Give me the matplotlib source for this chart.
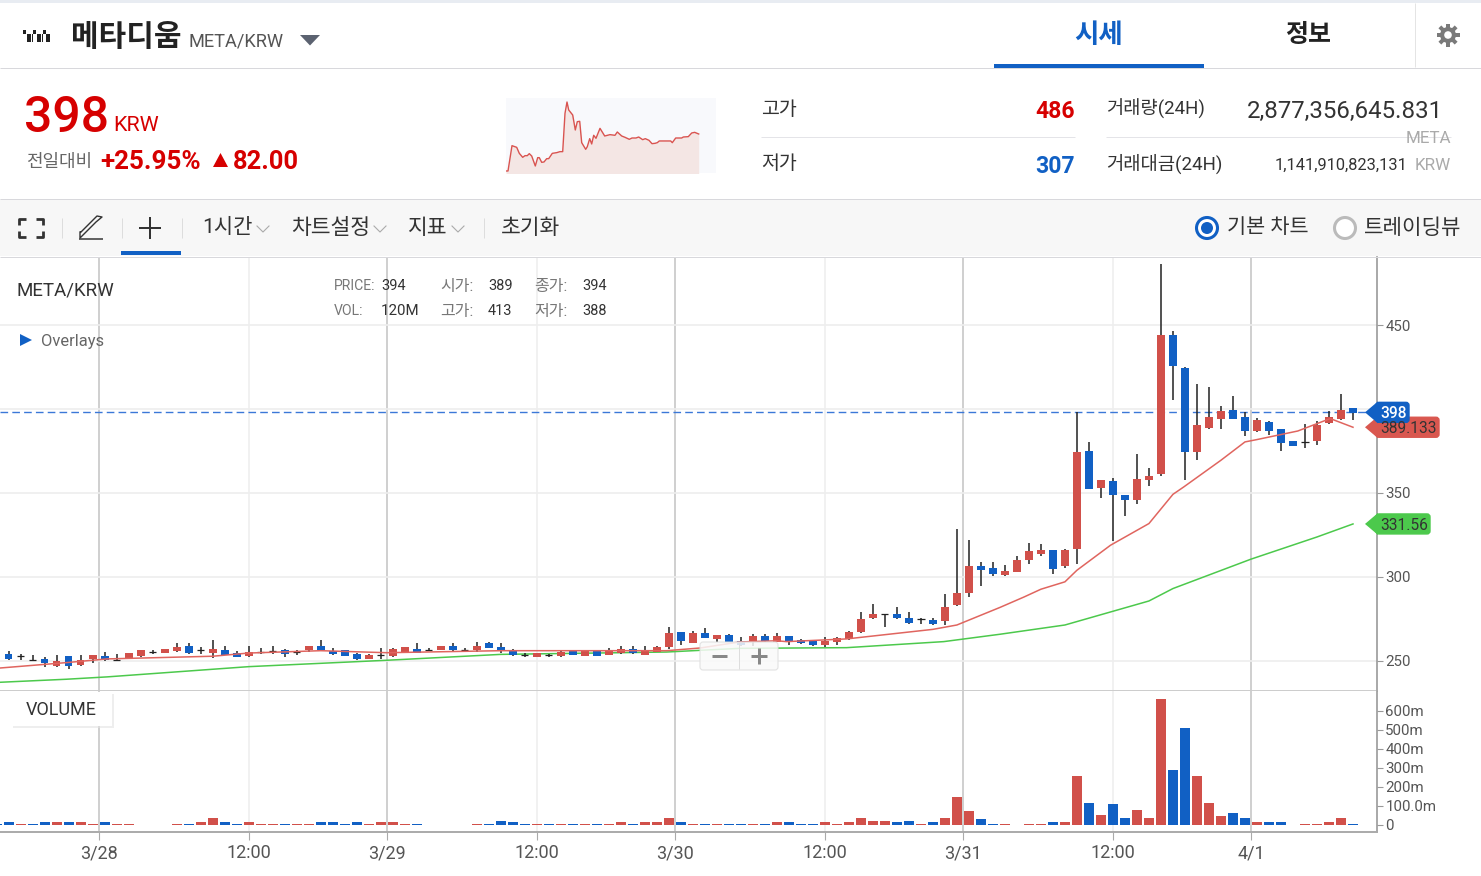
###########################################################################################################################
# META/KRW hourly chart screen
import numpy as np
import matplotlib
matplotlib.use('Agg')
import matplotlib.pyplot as plt
from matplotlib.patches import Circle, FancyBboxPatch, Polygon, Rectangle

plt.rcParams['font.family'] = ['Roboto', 'Noto Sans CJK KR', 'DejaVu Sans']

###########################################################################################################################
# Data
# hourly candles, the first one is cut by the left edge
opens = [256.1, 253.9, 252.7, 250.8, 251.2, 247.0, 252.8, 247.6, 251.0, 252.8, 250.8, 251.6, 253.0, 255.3, 254.7, 255.7, 259.1, 256.3, 254.9,
         256.5, 254.5, 253.0, 255.1, 256.1, 256.5, 255.1, 256.5, 259.1, 256.1, 256.5, 254.1, 251.4, 253.3, 253.0, 255.5, 257.3, 256.3, 256.7,
         259.1, 256.3, 256.5, 260.9, 258.1, 256.1, 253.9, 252.2, 253.5, 253.0, 256.1, 253.2, 255.7, 253.7, 254.5, 257.3, 253.7, 255.5, 258.1,
         267.2, 260.9, 266.4, 262.9, 265.4, 261.9, 261.5, 264.7, 261.5, 264.7, 262.5, 261.9, 259.3, 261.3, 262.9, 267.4, 275.4, 278.0, 278.0,
         275.4, 275.2, 274.4, 273.8, 283.4, 290.7, 306.6, 305.6, 301.2, 303.0, 310.2, 313.7, 316.3, 306.6, 316.5, 375.2, 353.2, 357.4, 348.6,
         346.1, 357.6, 361.1, 444.1, 424.4, 374.4, 388.7, 394.1, 399.4, 395.1, 386.9, 392.3, 387.9, 380.8, 380.6, 380.8, 391.5, 394.1, 400.4]
closes = [253.5, 251.2, 252.7, 250.7, 248.6, 250.0, 247.0, 250.4, 253.7, 250.4, 250.8, 254.5, 256.3, 255.3, 257.3, 258.1, 254.9, 256.3, 257.3,
          253.7, 252.4, 255.5, 255.1, 256.1, 253.9, 255.1, 259.1, 256.7, 253.9, 253.2, 251.4, 253.7, 253.3, 257.3, 258.1, 254.9, 256.3, 259.1,
          256.5, 256.3, 259.1, 257.7, 256.1, 253.7, 253.8, 254.7, 253.4, 255.5, 253.7, 255.7, 253.2, 256.5, 257.3, 254.9, 256.5, 258.3, 266.4,
          261.9, 266.4, 263.7, 265.4, 261.5, 259.5, 264.7, 261.9, 264.7, 261.9, 260.5, 259.3, 261.9, 263.7, 267.2, 275.2, 278.0, 278.0, 275.4,
          272.8, 275.2, 272.0, 282.3, 290.5, 306.6, 304.0, 302.0, 303.8, 310.2, 315.5, 316.3, 305.0, 316.3, 374.4, 352.2, 357.6, 348.6, 346.1,
          358.4, 360.2, 444.1, 425.4, 374.4, 390.5, 395.1, 398.6, 394.1, 386.9, 393.3, 386.9, 379.8, 378.2, 380.6, 390.5, 395.1, 399.4, 397.8]
highs = [256.1, 256.1, 254.3, 253.5, 252.4, 253.3, 252.8, 253.5, 253.7, 255.1, 254.1, 254.5, 256.3, 256.3, 257.3, 260.5, 260.5, 258.5, 262.3,
         258.7, 256.1, 258.7, 257.5, 258.7, 257.1, 256.5, 259.1, 262.3, 257.5, 256.5, 254.5, 254.1, 257.7, 257.7, 258.1, 260.5, 257.5, 259.1,
         260.5, 257.7, 261.5, 261.5, 260.5, 256.9, 254.9, 254.7, 254.3, 256.1, 256.1, 255.7, 255.7, 257.7, 258.7, 258.7, 258.7, 258.7, 270.4,
         267.2, 267.6, 269.4, 265.4, 265.9, 264.1, 265.9, 265.9, 266.8, 264.9, 263.3, 261.9, 264.1, 264.1, 267.6, 279.3, 283.9, 278.2, 281.9,
         279.3, 275.4, 275.8, 290.1, 328.6, 322.3, 309.0, 309.0, 307.0, 312.5, 320.5, 319.5, 316.3, 316.9, 398.2, 380.4, 357.6, 358.8, 349.0,
         373.0, 365.1, 486.5, 446.3, 425.0, 415.1, 413.3, 401.8, 408.0, 398.2, 394.5, 392.9, 388.3, 380.8, 390.9, 392.9, 399.0, 408.9, 400.4]
lows = [253.5, 250.6, 250.6, 250.2, 246.4, 246.2, 245.4, 247.2, 249.0, 250.0, 250.0, 251.2, 252.2, 254.1, 254.7, 255.5, 254.1, 254.1, 251.6,
        253.3, 252.2, 252.6, 253.9, 254.3, 252.6, 253.5, 255.1, 256.5, 253.5, 253.2, 250.8, 251.2, 251.4, 252.6, 255.5, 254.5, 255.9, 256.7,
        255.5, 255.7, 255.1, 257.5, 254.5, 253.2, 252.6, 252.2, 252.6, 252.6, 253.7, 253.2, 253.2, 253.5, 254.3, 254.1, 253.3, 255.3, 256.9,
        259.7, 260.9, 263.5, 261.1, 261.1, 258.9, 258.9, 261.5, 261.1, 259.7, 260.3, 258.7, 258.1, 259.7, 262.5, 266.8, 275.0, 270.4, 275.0,
        272.2, 272.2, 271.6, 271.4, 283.0, 288.1, 294.7, 300.8, 300.6, 303.0, 308.0, 312.5, 301.8, 305.4, 308.0, 352.2, 347.3, 321.5, 336.5,
        343.5, 354.4, 360.0, 405.2, 358.0, 369.7, 388.3, 388.3, 394.1, 383.8, 386.5, 384.6, 375.0, 378.2, 376.6, 378.4, 391.1, 393.7, 393.5]
volumes = [5, 12, 5, 5, 12, 12, 12, 12, 5, 12, 5, 5, 0, 0, 0, 5, 5, 12, 35,
           12, 5, 12, 5, 5, 5, 5, 5, 12, 12, 5, 12, 5, 12, 12, 5, 5, 0, 0,
           0, 0, 5, 5, 19, 12, 5, 5, 5, 5, 5, 5, 5, 5, 12, 5, 12, 12, 35,
           12, 5, 5, 5, 5, 5, 5, 5, 12, 12, 5, 5, 12, 5, 12, 35, 19, 19, 12,
           19, 5, 12, 35, 146, 74, 28, 5, 5, 0, 5, 5, 12, 12, 256, 114, 51, 107, 35,
           75, 35, 660, 288, 509, 256, 114, 44, 60, 35, 12, 12, 12, 0, 5, 5, 12, 35, 5]

# moving averages, read at the corners of the lines
ma_fast_x = [-0.7, 4.8, 8.2, 17, 20, 26, 31.5, 41, 49.3, 54.8, 57.6, 60.9, 64, 64.8, 69.8, 77, 79, 82.6, 84.6, 86, 88, 89, 91.8, 95, 97, 97.9, 101, 103, 104, 107.4, 110.1, 112]
ma_fast_y = [245.8, 249.0, 251.2, 252.8, 254.7, 256.1, 254.9, 256.1, 256.1, 256.1, 257.7, 261.3, 262.0, 261.5, 263.1, 268.8, 271.4, 281.9, 288.1, 292.7, 297.1, 304.0, 318.9, 331.8, 349.2, 353.6, 369.5, 380.4, 381.8, 386.9, 394.3, 389.13]
ma_slow_x = [-0.7, 4.8, 8.2, 20, 31.5, 41, 54.8, 60.9, 69.8, 77.9, 82.6, 88, 95, 97, 103.5, 109, 112]
ma_slow_y = [237.3, 239.1, 240.5, 246.6, 250.4, 253.9, 255.3, 257.5, 257.9, 261.5, 265.9, 271.4, 285.7, 293.1, 310.6, 323.8, 331.56]

last_price = 398
ma_fast_last = '389.133'
ma_slow_last = '331.56'

price_ticks = [250, 300, 350, 400, 450]
price_labels = ['250', '300', '350', '', '450']
vol_ticks = [0, 100, 200, 300, 400, 500, 600]
vol_labels = ['0', '100.0m', '200m', '300m', '400m', '500m', '600m']
day_ticks = [7.5, 31.5, 55.5, 79.5, 103.5]
day_labels = ['3/28', '3/29', '3/30', '3/31', '4/1']
noon_ticks = [20, 44, 68, 92]

# small 24h chart in the header
spark_t = [0, 2, 6, 10.7, 13.3, 16.7, 19, 21.3, 23.3, 25.7, 29.3, 31.7, 33.3, 35.7, 38, 40.7, 42.7, 46.3, 50.7, 54, 56.7, 59, 61, 62.7, 66.7, 69.3, 71.3, 73.7,
           75.7, 79.7, 81.3, 83.7, 85.7, 87.7, 90, 94, 98.7, 104, 109, 111.3, 115.7, 119, 123.3, 126, 130, 132.7, 136.7, 139.3, 143, 146, 149, 151.3, 153.3,
           164.7, 166.3, 169.7, 175.7, 177.3, 182.3, 185.7, 188.7, 192.7]
spark_p = [307, 307, 372.7, 368.4, 352.8, 342.5, 346.8, 346.8, 352.0, 345.9, 320, 341.6, 341.6, 329.5, 330.4, 339, 339, 352.8, 354.6, 357.2, 357.2, 456.6, 486, 465.3,
           452.3, 413.4, 435, 435.9, 380.5, 363.2, 370.1, 390.9, 377.1, 399.6, 391.8, 417.7, 397.8, 401.3, 399.6, 408.2, 397.8, 394.4, 389.2, 392.6, 392.6, 395.2,
           388.3, 390.9, 386.6, 377.9, 378.8, 380.5, 384.9, 384.9, 380.5, 392.6, 392.6, 395.2, 396.1, 405.6, 407.3, 403]

###########################################################################################################################
# Definitions
W, H = 1481, 876
RED = '#D1504A'
BLUE = '#1160C4'
TEXT_RED = '#D60000'
GREEN = '#4CC94C'

def box(x0, y0, x1, y1):
    """ Axes rectangle from pixel corners, y counted from the top. """
    return [x0 / W, 1 - y1 / H, (x1 - x0) / W, (y1 - y0) / H]

def txt(x, y, s, px, color='#333333', ha='left', weight='normal', **kw):
    """ Text with the size given in pixels, y is the middle of the glyphs. """
    return ui.text(x, y + 0.12 * px - 0.7, s, fontsize=px * 0.72, color=color, ha=ha, va='center', fontweight=weight, **kw)

def line(x0, y0, x1, y1, color='#DDDDDD', lw=1.0, **kw):
    ui.plot([x0, x1], [y0, y1], color=color, lw=lw * 0.72, solid_capstyle='butt', **kw)

def rect(x0, y0, x1, y1, color, **kw):
    ui.add_patch(Rectangle((x0, y0), x1 - x0, y1 - y0, facecolor=color, edgecolor='none', **kw))

def chevron(x, y):
    ui.plot([x - 6, x, x + 6], [y - 3, y + 3, y - 3], color='#AAAAAA', lw=0.8)

def tag(value, label, x1, color, text_color, weight='normal'):
    """ Price tag at the right axis, placed from the price scale. """
    y = H - ax_price.transData.transform((0, value))[1]
    ui.add_patch(FancyBboxPatch((1376, y - 10), x1 - 1376 - 1, 20, boxstyle='round,pad=0,rounding_size=3', facecolor=color, edgecolor=color, lw=1))
    ui.add_patch(Polygon([[1365, y], [1378, y - 11], [1378, y + 11]], facecolor=color, edgecolor='none'))
    txt(1380, y, label, 15.5, color=text_color, weight=weight)

###########################################################################################################################
# Figure and axes
fig = plt.figure(figsize=(W / 100, H / 100), dpi=100, facecolor='white')
ax_price = fig.add_axes(box(0, 257, 1377, 691))
ax_vol = fig.add_axes(box(0, 691, 1377, 832), sharex=ax_price)
ax_spark = fig.add_axes(box(506, 98, 716, 173))
ui = fig.add_axes([0, 0, 1, 1], zorder=10)
ui.set_xlim(0, W)
ui.set_ylim(H, 0)
ui.axis('off')
ui.patch.set_alpha(0)

k = np.arange(-1, len(opens) - 1)
opens, closes, highs, lows = map(np.array, (opens, closes, highs, lows))
volumes = np.array(volumes)
up = closes >= opens
body = np.abs(closes - opens)
doji = body < 0.5
colors = np.where(up, RED, BLUE)

## Price panel
for ax in (ax_price, ax_vol):
    for t in day_ticks:
        ax.axvline(t, color='#CCCCCC', lw=1.3, zorder=1)
    for t in noon_ticks:
        ax.axvline(t, color='#EEEEEE', lw=1.1, zorder=1)
    ax.spines[['left', 'top']].set_visible(False)
    ax.spines['right'].set_color('#999999')
    ax.spines['right'].set_linewidth(1.2)
    ax.yaxis.tick_right()
    ax.tick_params(axis='y', length=4, width=0.8, color='#999999', labelcolor='#555555', labelsize=10.8, pad=2)

for p in price_ticks:
    ax_price.axhline(p, color='#EEEEEE', lw=1.2, zorder=1)
ax_price.axhline(last_price, color='#3B78D8', lw=1.0, dashes=(5.5, 3), zorder=2)
ax_price.plot(ma_slow_x, ma_slow_y, color=GREEN, lw=1.1, zorder=3)
ax_price.vlines(k, lows, highs, color='#222222', lw=1.1, zorder=4)
ax_price.bar(k[~doji], body[~doji], bottom=np.minimum(opens, closes)[~doji], width=0.63, color=colors[~doji], zorder=5)
ax_price.hlines(closes[doji], k[doji] - 0.3, k[doji] + 0.3, color='#222222', lw=0.9, zorder=5)
ax_price.plot(ma_fast_x, ma_fast_y, color='#E0655F', lw=1.1, zorder=6)
ax_price.set_xlim(-0.725, 114.0)
ax_price.set_ylim(232.1, 490.5)
ax_price.set_yticks(price_ticks, price_labels)
ax_price.spines['bottom'].set_color('#CCCCCC')
ax_price.spines['bottom'].set_linewidth(1.4)
ax_price.tick_params(axis='x', length=0, labelbottom=False)

## Volume panel
ax_vol.bar(k, volumes, width=0.84, color=colors, zorder=3)
ax_vol.set_ylim(-38.5, 704)
ax_vol.set_yticks(vol_ticks, vol_labels)
ax_vol.spines['bottom'].set_color('#AAAAAA')
ax_vol.spines['bottom'].set_linewidth(1.4)
ax_vol.set_xticks(day_ticks + noon_ticks, day_labels + ['12:00'] * len(noon_ticks))
ax_vol.tick_params(axis='x', length=6, width=0.8, color='#AAAAAA', labelcolor='#555555', labelsize=13, pad=3)

## 24h chart
ax_spark.fill_between(spark_t, spark_p, 300, color='#F4E6E4', lw=0)
ax_spark.plot(spark_t, spark_p, color='#D9534F', lw=1.0)
ax_spark.set_xlim(0, 210)
ax_spark.set_ylim(301.8, 496.4)
ax_spark.axis('off')
ax_spark.add_patch(Rectangle((0, 0), 1, 1, transform=ax_spark.transAxes, facecolor='#F8F9FC', edgecolor='none', zorder=0))

###########################################################################################################################
# Page furniture
rect(0, 0, W, 3, '#E8ECF2')
line(0, 67.5, W, 67.5, '#D8D8DC')
line(0, 198.5, W, 198.5, '#D8D8DC')
line(0, 256.5, W, 256.5, '#D8D8DC')
rect(0, 199, W, 256, '#F7F7F7')

## Title row
for x0, y0, x1, y1 in [(22.5, 30, 25.5, 34), (27, 34, 30.5, 42), (31.5, 34, 33, 42), (33, 30, 36, 34), (37, 34, 40.5, 42),
                       (41.5, 34, 43, 42), (43, 30, 46, 34), (46, 34, 49.5, 42)]:
    rect(x0, y0, x1, y1, '#222222')
txt(71, 35.5, '메타디움', 30, color='#222222', weight='bold')
txt(188, 40, 'META/KRW', 18.3, color='#555555')
ui.add_patch(Polygon([[300, 35], [320, 35], [310, 45.5]], facecolor='#5B6270', edgecolor='none'))
txt(1099, 33, '시세', 26.5, color=BLUE, ha='center', weight='bold')
txt(1308, 33, '정보', 25, color='#222222', ha='center', weight='bold')
rect(994, 64, 1204, 68, BLUE)
line(1414.5, 3, 1414.5, 67, '#E4E4E4')
for a in np.arange(0, 360, 45):
    ca, sa = np.cos(np.radians(a)), np.sin(np.radians(a))
    line(1448 + 6 * ca, 35 + 6 * sa, 1448 + 11.5 * ca, 35 + 11.5 * sa, '#7A7A7A', lw=4)
ui.add_patch(Circle((1448, 35), 8, facecolor='#7A7A7A', edgecolor='none'))
ui.add_patch(Circle((1448, 35), 3.8, facecolor='white', edgecolor='none'))

## Price block
txt(24, 113, '398', 50, color=TEXT_RED, weight='medium')
txt(113, 124, 'KRW', 21.5, color=TEXT_RED)
txt(26, 160, '전일대비', 18, color='#666666')
txt(100, 160, '+25.95%', 26, color=TEXT_RED, weight='bold')
ui.add_patch(Polygon([[213, 167], [228, 167], [220.5, 153]], facecolor=TEXT_RED, edgecolor='none'))
txt(233, 160, '82.00', 25.5, color=TEXT_RED, weight='bold')

txt(761, 108, '고가', 19.5)
txt(1075, 109, '486', 23, color=TEXT_RED, ha='right', weight='bold')
line(761, 136.5, 1075, 136.5, '#E4E4E8')
txt(761, 162, '저가', 19.5)
txt(1075, 164, '307', 23, color=BLUE, ha='right', weight='bold')
txt(1106, 107, '거래량(24H)', 18.7)
txt(1443, 109, '2,877,356,645.831', 24, ha='right')
line(1106, 136.5, 1451, 136.5, '#E4E4E8')
txt(1451, 137, 'META', 17, color='#AAAAAA', ha='right')
txt(1106, 162, '거래대금(24H)', 18.8)
txt(1408, 164, '1,141,910,823,131', 16.4, ha='right')
txt(1451, 164, 'KRW', 17, color='#AAAAAA', ha='right')

## Toolbar
for cx, cy, dx, dy in [(19, 219, 1, 1), (43, 219, -1, 1), (19, 237, 1, -1), (43, 237, -1, -1)]:
    ui.plot([cx + 7 * dx, cx, cx], [cy, cy, cy + 6 * dy], color='#333333', lw=2.0, solid_capstyle='butt')
for x in (61.5, 121.5, 181.5, 483.5):
    line(x, 218, x, 238, '#DDDDDD')
ui.plot([80, 80, 96, 102, 97, 81], [232, 238, 222, 217, 216, 232], color='#333333', lw=1.0)
line(79, 239, 103, 239, '#333333', lw=1.5)
line(139, 228, 161, 228, '#333333', lw=2)
line(150, 217, 150, 239, '#333333', lw=2)
rect(121, 251, 181, 255, BLUE)
txt(202, 226, '1시간', 21)
chevron(263, 229)
txt(291, 226, '차트설정', 21.5)
chevron(380, 229)
txt(408, 226, '지표', 21.5)
chevron(458, 229)
txt(501, 226, '초기화', 21.5)
ui.add_patch(Circle((1207, 228), 10.5, facecolor='white', edgecolor=BLUE, lw=2.2))
ui.add_patch(Circle((1207, 228), 6, facecolor=BLUE, edgecolor='none'))
txt(1227, 226, '기본 차트', 20.8)
ui.add_patch(Circle((1345, 228), 10.5, facecolor='white', edgecolor='#BBBBBB', lw=2.2))
txt(1364, 226, '트레이딩뷰', 21.2)

## Chart captions
txt(17, 289, 'META/KRW', 18.8)
for x, y, s, c, px in [(334, 285, 'PRICE:', '#777777', 14), (381, 285, '394', '#333333', 14.5), (440, 285, '시가:', '#777777', 16), (488, 285, '389', '#333333', 14.5),
                       (534, 285, '종가:', '#777777', 16), (582, 285, '394', '#333333', 14.5), (334, 310, 'VOL:', '#777777', 14), (381, 310, '120M', '#333333', 15),
                       (440, 310, '고가:', '#777777', 16), (488, 310, '413', '#333333', 14.5), (534, 310, '저가:', '#777777', 16), (582, 310, '388', '#333333', 14.5)]:
    txt(x, y, s, px, color=c)
ui.add_patch(Polygon([[20, 334], [20, 346], [32, 340]], facecolor=BLUE, edgecolor='none'))
txt(41, 340, 'Overlays', 16.5, color='#666666')

rect(13, 694, 114, 728, '#E4E4E4', alpha=0.6)
rect(11, 692, 112, 726, 'white')
txt(26, 709, 'VOLUME', 18)

ui.add_patch(FancyBboxPatch((700, 642), 78, 28, boxstyle='round,pad=0,rounding_size=3', facecolor='#FAFAFA', edgecolor='#DDDDDD', lw=0.8, alpha=0.85))
line(712, 656, 727, 656, '#888888', lw=3)
line(739, 643, 739, 669, '#DDDDDD')
line(751, 656, 767, 656, '#888888', lw=3)
line(759, 648, 759, 664, '#888888', lw=3)

## Price tags
tag(float(ma_fast_last), ma_fast_last, 1440, '#D9574F', '#333333')
tag(float(ma_slow_last), ma_slow_last, 1431, GREEN, '#333333')
tag(last_price, str(last_price), 1410, BLUE, 'white', weight='medium')

fig.savefig('out.png', dpi=100)
